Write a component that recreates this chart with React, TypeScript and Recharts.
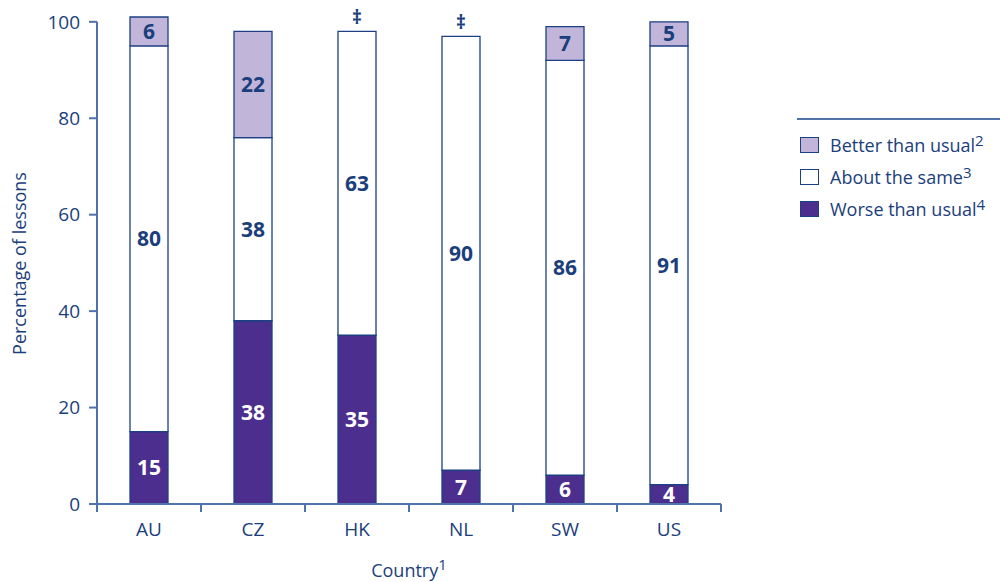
import React from 'react';
import { BarChart, Bar, XAxis, YAxis, LabelList, Legend, ReferenceLine, Label } from 'recharts';

const countries = ['AU', 'CZ', 'HK', 'NL', 'SW', 'US'];
const worse = [15, 38, 35, 7, 6, 4];
const same = [80, 38, 63, 90, 86, 91];
const better: (number | null)[] = [6, 22, null, null, 7, 5];
// reporting standards not met for "better" in HK and NL
const notes = ['', '', '‡', '‡', '', ''];
const yTicks = [0, 20, 40, 60, 80, 100];

const data = countries.map((c, i) => ({
  country: c,
  worse: worse[i],
  same: same[i],
  better: better[i],
  note: notes[i],
}));

const AXIS = '#5073a9';
const TEXT = '#1b3e7c';
const EDGE = '#1d3f84';
const DARK = '#4b2e8e';
const LIGHT = '#c1b6da';
const FONT = '"Open Sans", sans-serif';

const W = 1000;
const H = 582;
const margin = { top: 17, right: 279, bottom: 0, left: 0 };
const bandHalf = (W - 97 - margin.right) / countries.length / 2;

const legendItems = [
  { label: 'Better than usual', note: '2', fill: LIGHT },
  { label: 'About the same', note: '3', fill: '#ffffff' },
  { label: 'Worse than usual', note: '4', fill: DARK },
];

const XTick = (props: any) => {
  const { x, y, payload, index } = props;
  return (
    <g>
      <line x1={x - bandHalf} y1={y} x2={x - bandHalf} y2={y + 8} stroke={AXIS} strokeWidth={2} />
      {index === countries.length - 1 && (
        <line x1={x + bandHalf} y1={y} x2={x + bandHalf} y2={y + 8} stroke={AXIS} strokeWidth={2} />
      )}
      <text x={x} y={y + 32} textAnchor="middle" fill={TEXT} fontSize={19} fontFamily={FONT}>
        {payload.value}
      </text>
    </g>
  );
};

const LegendBox = () => (
  <div style={{ fontFamily: FONT, color: TEXT }}>
    <div style={{ borderTop: `2px solid ${AXIS}`, width: 203 }} />
    {legendItems.map((it, i) => (
      <div
        key={it.label}
        style={{ display: 'flex', alignItems: 'center', height: 32, marginTop: i === 0 ? 9 : 0 }}
      >
        <span
          style={{
            width: 17,
            height: 14,
            marginLeft: 3,
            border: `1.3px solid ${EDGE}`,
            background: it.fill,
          }}
        />
        <span style={{ marginLeft: 11, fontSize: 18, whiteSpace: 'nowrap', lineHeight: '20px' }}>
          {it.label}
          <span style={{ fontSize: 15, position: 'relative', top: -6 }}>{it.note}</span>
        </span>
      </div>
    ))}
  </div>
);

const App: React.FC = () => {
  return (
    <div style={{ position: 'absolute', left: 0, top: 0, width: W, height: H, background: '#fff' }}>
      <BarChart width={W} height={H} data={data} margin={margin}>
        <XAxis
          dataKey="country"
          height={78}
          interval={0}
          axisLine={{ stroke: AXIS, strokeWidth: 2 }}
          tickLine={false}
          tickSize={0}
          tickMargin={0}
          tick={<XTick />}
        >
          <Label
            content={(p: any) => {
              const vb = p.viewBox || {};
              return (
                <text x={vb.x + vb.width / 2} y={vb.y + 73} textAnchor="middle" fill={TEXT} fontSize={18} fontFamily={FONT}>
                  Country
                  <tspan fontSize={15} dy={-7}>1</tspan>
                </text>
              );
            }}
          />
        </XAxis>
        <YAxis
          width={97}
          domain={[0, 101]}
          ticks={yTicks}
          interval={0}
          axisLine={false}
          tickLine={{ stroke: AXIS, strokeWidth: 2 }}
          tickSize={8}
          tickMargin={9}
          tick={{ fill: TEXT, fontSize: 19, fontFamily: FONT }}
        >
          <Label
            content={(p: any) => {
              const vb = p.viewBox || {};
              const cy = vb.y + vb.height / 2 + 3;
              return (
                <text
                  x={19}
                  y={cy}
                  transform={`rotate(-90, 19, ${cy})`}
                  textAnchor="middle"
                  dominantBaseline="central"
                  fill={TEXT}
                  fontSize={18}
                  fontFamily={FONT}
                >
                  Percentage of lessons
                </text>
              );
            }}
          />
        </YAxis>
        <ReferenceLine
          segment={[{ x: 'AU', y: 0 }, { x: 'AU', y: 100 }]}
          position="start"
          stroke={AXIS}
          strokeWidth={2}
        />
        <Legend
          layout="vertical"
          align="center"
          verticalAlign="middle"
          content={<LegendBox />}
          wrapperStyle={{ left: 797, top: 118, width: 203 }}
        />
        <Bar dataKey="worse" stackId="a" barSize={38} fill={DARK} stroke={EDGE} strokeWidth={1.3} isAnimationActive={false}>
          <LabelList dataKey="worse" position="center" fill="#ffffff" fontSize={21} fontWeight="bold" fontFamily={FONT} />
        </Bar>
        <Bar dataKey="same" stackId="a" barSize={38} fill="#ffffff" stroke={EDGE} strokeWidth={1.3} isAnimationActive={false}>
          <LabelList dataKey="same" position="center" fill={TEXT} fontSize={21} fontWeight="bold" fontFamily={FONT} />
          <LabelList dataKey="note" position="top" offset={7} fill={TEXT} fontSize={19} fontWeight="bold" fontFamily={FONT} />
        </Bar>
        <Bar dataKey="better" stackId="a" barSize={38} fill={LIGHT} stroke={EDGE} strokeWidth={1.3} isAnimationActive={false}>
          <LabelList dataKey="better" position="center" fill={TEXT} fontSize={21} fontWeight="bold" fontFamily={FONT} />
        </Bar>
      </BarChart>
    </div>
  );
};

export default App;
